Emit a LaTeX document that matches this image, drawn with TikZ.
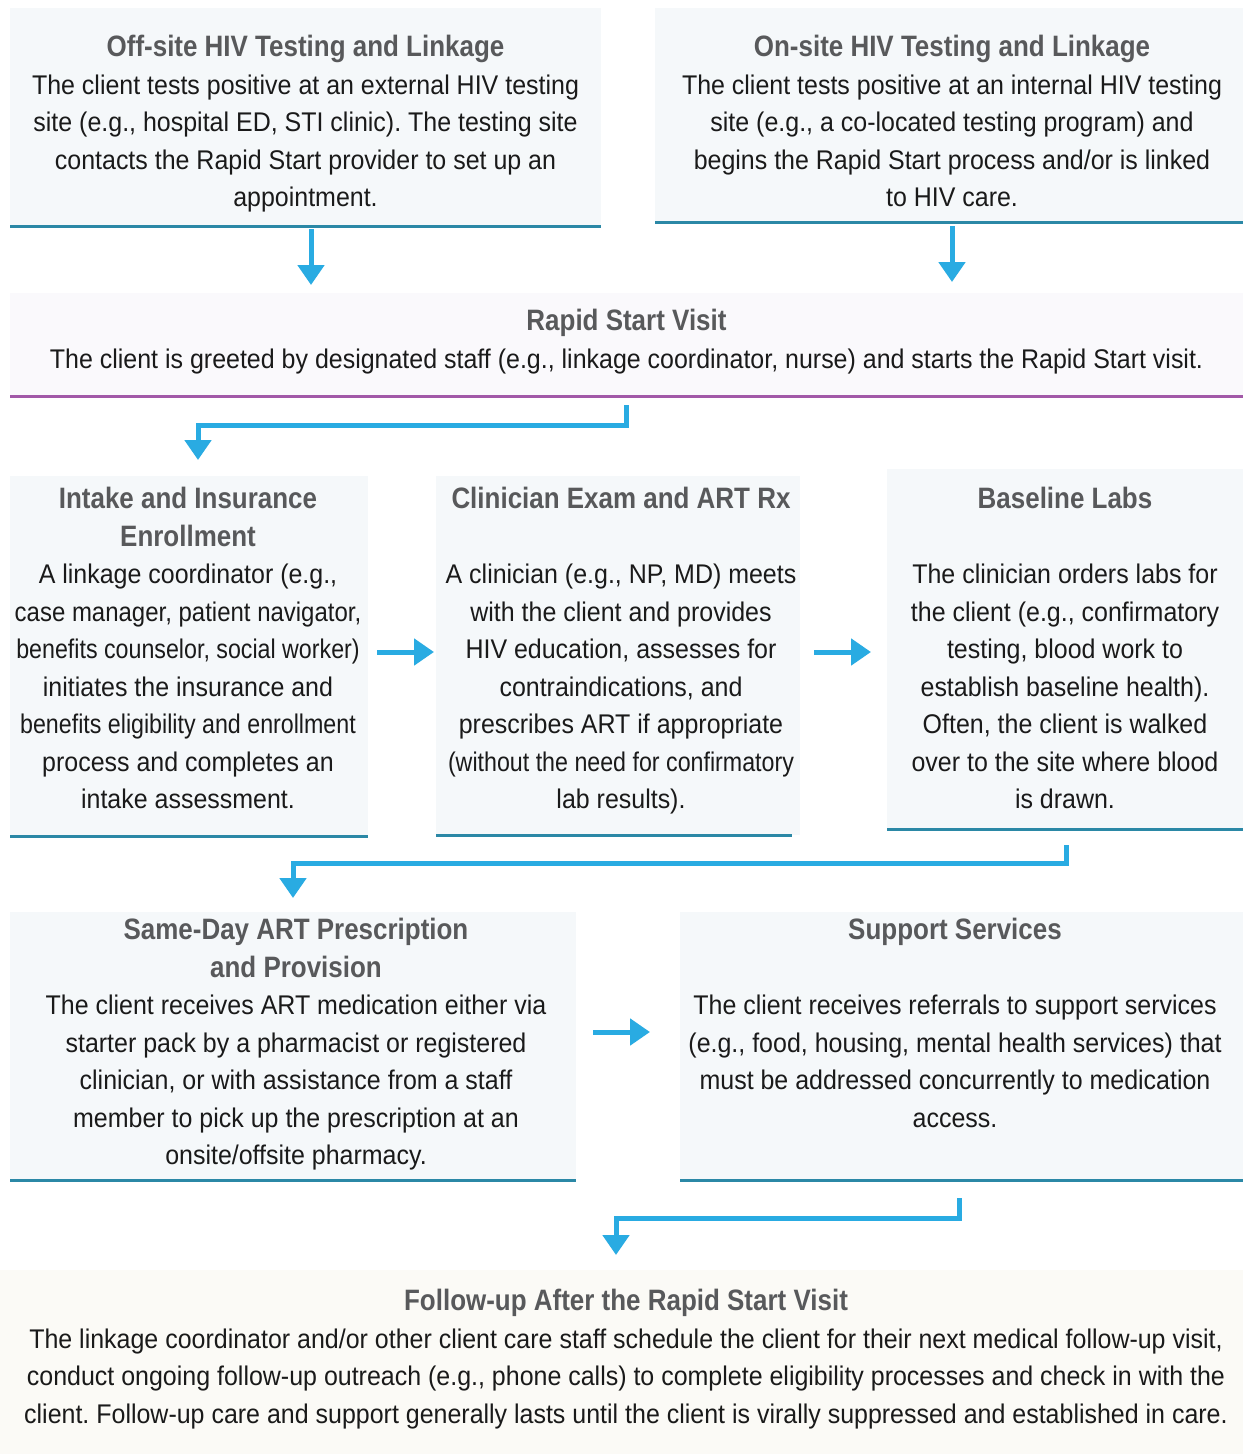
\documentclass[tikz,border=0pt]{standalone}
\usepackage{fontspec}
\setmainfont{Liberation Sans}[FakeStretch=0.925]
\newfontfamily\tfont{Liberation Sans}[FakeStretch=0.88]
\usetikzlibrary{arrows.meta,calc}
\definecolor{boxfill}{HTML}{F5F8FA}
\definecolor{rapidfill}{HTML}{FAF9FC}
\definecolor{followfill}{HTML}{FBFAF6}
\definecolor{lineteal}{HTML}{2B88A6}
\definecolor{linepurple}{HTML}{A259A8}
\definecolor{arrowblue}{HTML}{29ABE2}
\definecolor{titlegray}{HTML}{58595B}
\definecolor{bodytext}{HTML}{1A1A1A}
\newcommand{\ttl}{\tfont\bfseries\fontsize{29.5}{37.5}\selectfont\color{titlegray}}
\newcommand{\squeeze}[2]{\scalebox{#1}[1]{#2}}
\frenchspacing
\begin{document}
\begin{tikzpicture}[x=1pt,y=-1pt,
  box/.style={fill=boxfill, draw=none, inner sep=0pt, outer sep=0pt},
  bline/.style={draw=lineteal, line width=3pt},
  txt/.style={anchor=north, inner sep=0pt, align=center, text=bodytext,
    font=\fontsize{27}{37.5}\selectfont},
  arr/.style={draw=arrowblue, line width=5pt, -{Triangle[length=20pt,width=26pt]}}]
\useasboundingbox (0,0) rectangle (1243,1454);
\fill[white] (0,0) rectangle (1243,1454);

% boxes
\node[box, minimum width=591pt, minimum height=218pt] (off) at (305.5,117) {};
\node[box, minimum width=588pt, minimum height=214pt] (on) at (949,115) {};
\node[box, fill=rapidfill, minimum width=1233pt, minimum height=103pt] (rapid) at (626.5,344.5) {};
\node[box, minimum width=358pt, minimum height=360pt] (intake) at (189,656) {};
\node[box, minimum width=364pt, minimum height=359pt] (clin) at (618,655.5) {};
\node[box, minimum width=356pt, minimum height=360pt] (base) at (1065,649) {};
\node[box, minimum width=566pt, minimum height=268pt] (same) at (293,1046) {};
\node[box, minimum width=563pt, minimum height=268pt] (supp) at (961.5,1046) {};
\node[box, fill=followfill, minimum width=1243pt, minimum height=184pt] (follow) at (621.5,1362) {};

% bottom rules
\draw[bline] (off.south west) -- (off.south east);
\draw[bline] (on.south west) -- (on.south east);
\draw[bline, draw=linepurple] (rapid.south west) -- (rapid.south east);
\draw[bline] (intake.south west) -- (intake.south east);
\draw[bline] (clin.south west) -- ($(clin.south east)+(-8,0)$);
\draw[bline] (base.south west) -- (base.south east);
\draw[bline] (same.south west) -- (same.south east);
\draw[bline] (supp.south west) -- (supp.south east);

% texts
\node[txt] (offT) at (305.5,35) {{\ttl Off-site HIV Testing and Linkage}\\
The client tests positive at an external HIV testing\\
site (e.g., hospital ED, STI clinic). The testing site\\
contacts the Rapid Start provider to set up an\\
appointment.};
\node[txt] (onT) at (952,35) {{\ttl On-site HIV Testing and Linkage}\\
The client tests positive at an internal HIV testing\\
site (e.g., a co-located testing program) and\\
begins the Rapid Start process and/or is linked\\
to HIV care.};
\node[txt] (rapidT) at (626.5,309) {{\ttl Rapid Start Visit}\\
The client is greeted by designated staff (e.g., linkage coordinator, nurse) and starts the Rapid Start visit.};
\node[txt] (intakeT) at (188,487) {{\ttl Intake and Insurance}\\
{\ttl Enrollment}\\
A linkage coordinator (e.g.,\\
\squeeze{0.96}{case manager, patient navigator,}\\
\squeeze{0.93}{benefits counselor, social worker)}\\
initiates the insurance and\\
\squeeze{0.93}{benefits eligibility and enrollment}\\
process and completes an\\
intake assessment.};
\node[txt] (clinT) at (621,487) {{\ttl Clinician Exam and ART Rx}\\[37.5pt]
A clinician (e.g., NP, MD) meets\\
with the client and provides\\
HIV education, assesses for\\
contraindications, and\\
prescribes ART if appropriate\\
\squeeze{0.93}{(without the need for confirmatory}\\
lab results).};
\node[txt] (baseT) at (1065,487) {{\ttl Baseline Labs}\\[37.5pt]
The clinician orders labs for\\
the client (e.g., confirmatory\\
testing, blood work to\\
establish baseline health).\\
Often, the client is walked\\
over to the site where blood\\
is drawn.};
\node[txt] (sameT) at (296,918) {{\ttl Same-Day ART Prescription}\\
{\ttl and Provision}\\
The client receives ART medication either via\\
starter pack by a pharmacist or registered\\
clinician, or with assistance from a staff\\
member to pick up the prescription at an\\
onsite/offsite pharmacy.};
\node[txt] (suppT) at (955,918) {{\ttl Support Services}\\[37.5pt]
The client receives referrals to support services\\
(e.g., food, housing, mental health services) that\\
must be addressed concurrently to medication\\
access.};
\node[txt] (followT) at (626,1289) {{\ttl Follow-up After the Rapid Start Visit}\\
The linkage coordinator and/or other client care staff schedule the client for their next medical follow-up visit,\\
conduct ongoing follow-up outreach (e.g., phone calls) to complete eligibility processes and check in with the\\
client. Follow-up care and support generally lasts until the client is virally suppressed and established in care.};

% connectors
\draw[arr] ($(off.south)+(5.5,3)$) -- ($(rapid.north -| off.south)+(5.5,-8)$);
\draw[arr] ($(on.south)+(3,4)$) -- ($(rapid.north -| on.south)+(3,-11)$);
\draw[arr] ($(rapid.south)+(0,9)$) -- ++(0,20) -| ($(intake.north)+(9,-16)$);
\draw[arr] ($(intake.east)+(9,-4)$) -- ($(clin.west |- intake.east)+(-2,-4)$);
\draw[arr] ($(clin.east)+(14,-3.5)$) -- ($(base.west |- clin.east)+(-16,-3.5)$);
\draw[arr] ($(base.south)+(1,16)$) -- ++(0,18) -| ($(same.north)+(0,-14)$);
\draw[arr] ($(same.east)+(17,-14)$) -- ($(supp.west |- same.east)+(-30,-14)$);
\draw[arr] ($(supp.south)+(-2.5,18)$) -- ++(0,20) -| ($(follow.north)+(-5.5,-15)$);
\end{tikzpicture}
\end{document}
